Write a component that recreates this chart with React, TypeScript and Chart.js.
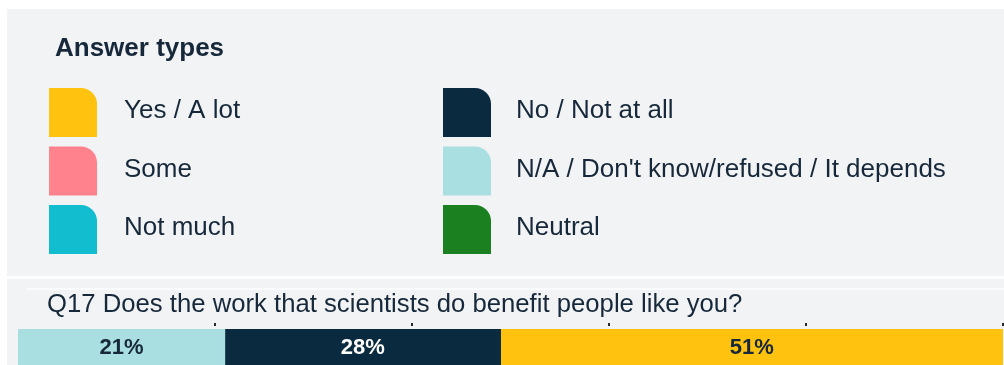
import React, { useEffect, useRef } from "react";
import { Chart, registerables } from "chart.js";

Chart.register(...registerables);

// ---- data ----
const legendTitle = "Answer types";
const answerTypes = [
  "Yes / A lot",
  "Some",
  "Not much",
  "No / Not at all",
  "N/A / Don't know/refused / It depends",
  "Neutral",
];
const answerColors = ["#FFC20E", "#FF828C", "#12BDCF", "#0A2A40", "#A9DFE1", "#1B8020"];
const labelColors = ["#16283a", "#16283a", "#16283a", "#ffffff", "#16283a", "#ffffff"];
const answerShares = [51, 0, 0, 28, 21, 0];
// left-to-right order of the stacked segments
const stackOrder = [4, 3, 0, 1, 2, 5];
const questions = ["Q17 Does the work that scientists do benefit people like you?"];
const axisTicks = [20, 40, 60, 80, 100];

const FONT = "'Liberation Sans', Arial, Helvetica, sans-serif";
const TEXT = "#16283a";

function swatch(ctx: CanvasRenderingContext2D, x: number, y: number, w: number, h: number, r: number) {
  ctx.beginPath();
  ctx.moveTo(x, y);
  ctx.lineTo(x + w - r, y);
  ctx.arcTo(x + w, y, x + w, y + r, r);
  ctx.lineTo(x + w, y + h);
  ctx.lineTo(x, y + h);
  ctx.closePath();
  ctx.fill();
}

const backdropPlugin = {
  id: "backdrop",
  beforeDraw(chart: any) {
    const ctx: CanvasRenderingContext2D = chart.ctx;
    const W = chart.width;
    const H = chart.height;
    ctx.save();
    ctx.fillStyle = "#ffffff";
    ctx.fillRect(0, 0, W, H);
    ctx.fillStyle = "#f2f3f5";
    ctx.fillRect(7, 9, W - 7, 267);
    ctx.fillRect(7, 279, W - 7, H - 279);
    ctx.fillStyle = "#fafbfc";
    ctx.fillRect(27, 288, W - 27, 2);

    // legend title
    ctx.fillStyle = TEXT;
    ctx.textBaseline = "alphabetic";
    ctx.textAlign = "left";
    ctx.font = `bold 26px ${FONT}`;
    ctx.fillText(legendTitle, 55, 56);

    // legend items
    ctx.font = `26px ${FONT}`;
    ctx.textBaseline = "middle";
    answerTypes.forEach((name, i) => {
      const col = i < 3 ? 0 : 1;
      const row = i % 3;
      const sx = col === 0 ? 49 : 443;
      const sy = 88 + row * 58.5;
      ctx.fillStyle = answerColors[i];
      swatch(ctx, sx, sy, 48, 49, 16);
      ctx.fillStyle = TEXT;
      ctx.fillText(name, col === 0 ? 124 : 516, sy + 23);
    });

    // question
    ctx.font = `25.7px ${FONT}`;
    ctx.textBaseline = "alphabetic";
    ctx.fillText(questions[0], 47, 312);
    ctx.restore();
  },
  afterDatasetsDraw(chart: any) {
    const ctx: CanvasRenderingContext2D = chart.ctx;
    const xs = chart.scales.x;
    ctx.save();
    ctx.fillStyle = "#2a2a2a";
    axisTicks.forEach((v) => {
      const px = xs.getPixelForValue(v);
      ctx.fillRect(Math.round(px) - 1, 323, 2, 3);
    });
    ctx.font = `bold 22px ${FONT}`;
    ctx.textAlign = "center";
    ctx.textBaseline = "middle";
    chart.data.datasets.forEach((ds: any, di: number) => {
      const v = ds.data[0];
      if (!v) return;
      const el = chart.getDatasetMeta(di).data[0];
      if (!el) return;
      const { x, base } = el.getProps(["x", "base"], true);
      ctx.fillStyle = ds.labelColor;
      ctx.fillText(`${v}%`, (x + base) / 2, 348);
    });
    ctx.restore();
  },
};

export default function App() {
  const ref = useRef<HTMLCanvasElement | null>(null);
  useEffect(() => {
    if (!ref.current) return;
    const chart = new Chart(ref.current, {
      type: "bar",
      data: {
        labels: ["Q17"],
        datasets: stackOrder.map((i) => ({
          label: answerTypes[i],
          data: [answerShares[i]],
          backgroundColor: answerColors[i],
          labelColor: labelColors[i],
          borderWidth: 0,
          barPercentage: 1,
          categoryPercentage: 1,
        })) as any,
      },
      options: {
        indexAxis: "y",
        responsive: false,
        animation: false,
        devicePixelRatio: 1,
        layout: { padding: { top: 329, left: 18, right: 1, bottom: 0 } },
        scales: {
          x: { stacked: true, min: 0, max: 100, display: false },
          y: { stacked: true, display: false },
        },
        plugins: { legend: { display: false }, tooltip: { enabled: false }, title: { display: false } },
      },
      plugins: [backdropPlugin],
    });
    return () => chart.destroy();
  }, []);
  return (
    <div style={{ position: "fixed", left: 0, top: 0, width: 1004, height: 365 }}>
      <canvas ref={ref} width={1004} height={365} />
    </div>
  );
}
